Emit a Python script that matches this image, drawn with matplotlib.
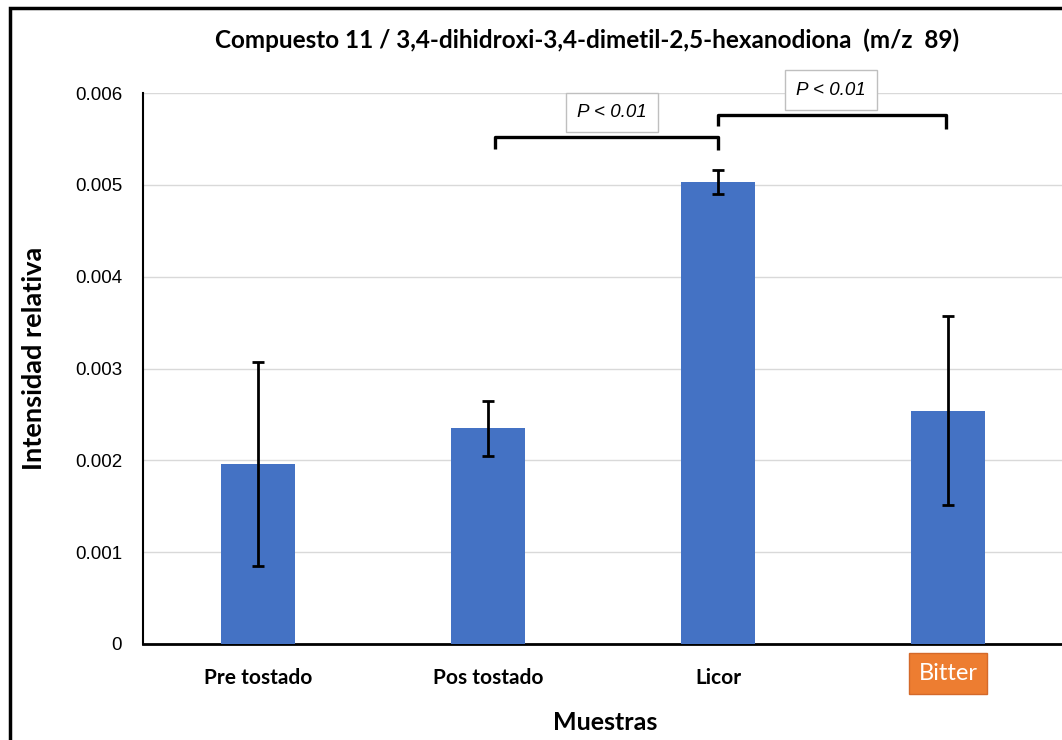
import matplotlib
matplotlib.use("Agg")
import matplotlib.pyplot as plt
from matplotlib.patches import Rectangle
from matplotlib.transforms import ScaledTranslation

# Sample categories and mean relative intensity with standard deviation
categories = ["Pre tostado", "Pos tostado", "Licor", "Bitter"]
means = [0.00196, 0.00235, 0.00503, 0.00254]
errors = [0.00111, 0.00030, 0.00013, 0.00103]
y_ticks = [0, 0.001, 0.002, 0.003, 0.004, 0.005, 0.006]
y_tick_labels = ["0", "0.001", "0.002", "0.003", "0.004", "0.005", "0.006"]

# Significance brackets: (start index, end index, bar height, left leg bottom, right leg bottom)
brackets = [
    (1.03, 2.0, 0.00552, 0.00539, 0.00538),
    (2.0, 2.99, 0.00576, 0.00564, 0.00561),
]
bracket_labels = ["P < 0.01", "P < 0.01"]
label_pos = [(1.54, 0.00579), (2.49, 0.00603)]

BOLD = ["Lato", "DejaVu Sans"]
REG = ["Liberation Sans", "DejaVu Sans"]

fig = plt.figure(figsize=(10.62, 7.40), dpi=100)
W, H = 1062, 740
ax = fig.add_axes([143 / W, 1 - 644 / H, 920 / W, (644 - 93) / H])

x = range(len(categories))
ax.bar(x, means, width=0.32, color="#4472C4", zorder=3)
ax.errorbar(x, means, yerr=errors, fmt="none", ecolor="black",
            elinewidth=2.0, capsize=4, capthick=2.0, zorder=4)

ax.set_xlim(-0.5, 3.5)
ax.set_ylim(0, 0.006)
ax.set_yticks(y_ticks)
ax.set_yticklabels(y_tick_labels, family=REG, fontsize=13.5)
ax.set_xticks(list(x))
ax.set_xticklabels(categories, family=BOLD, fontsize=15, fontweight="bold")
ax.tick_params(axis="x", length=0, pad=17)
ax.tick_params(axis="y", length=0, pad=15)

ax.grid(axis="y", color="#d9d9d9", linewidth=1, zorder=0)
ax.set_axisbelow(True)
for s in ["top", "right"]:
    ax.spines[s].set_visible(False)
ax.spines["left"].set_linewidth(1.5)
ax.spines["bottom"].set_linewidth(2.0)

# Highlight the last category label in an orange box
lbl = ax.get_xticklabels()[3]
lbl.set_color("white")
lbl.set_fontweight("normal")
lbl.set_fontsize(17)
lbl.set_bbox(dict(facecolor="#ED7D31", edgecolor="#d4692a", boxstyle="square,pad=0.42"))
lbl.set_transform(lbl.get_transform() + ScaledTranslation(0, 0.05, fig.dpi_scale_trans))

# Significance brackets and labels
for (x0, x1, yb, yl0, yl1), txt, (tx, ty) in zip(brackets, bracket_labels, label_pos):
    ax.plot([x0, x0, x1, x1], [yl0, yb, yb, yl1], color="black", lw=2.4,
            solid_capstyle="butt", solid_joinstyle="round", zorder=5, clip_on=False)
    ax.text(tx, ty, txt, ha="center", va="center", fontsize=13.5, style="italic",
            family=REG, zorder=6,
            bbox=dict(facecolor="white", edgecolor="#bfbfbf", lw=1,
                      boxstyle="square,pad=0.6"))

fig.text(587 / W, 1 - 40 / H,
         "Compuesto 11 / 3,4-dihidroxi-3,4-dimetil-2,5-hexanodiona  (m/z  89)",
         ha="center", va="center", fontsize=17.5, fontweight="bold", family=BOLD)
fig.text(34 / W, 1 - 358 / H, "Intensidad relativa", rotation=90,
         ha="center", va="center", fontsize=19.5, fontweight="bold", family=BOLD)
fig.text(605 / W, 1 - 723 / H, "Muestras", ha="center", va="center",
         fontsize=18, fontweight="bold", family=BOLD)

# Outer frame
fig.patches.append(Rectangle((10 / W, -0.05), 1.1, 1 - 8 / H + 0.05,
                             transform=fig.transFigure, fill=False,
                             edgecolor="black", lw=2.5))

fig.savefig("out.png", dpi=100)
